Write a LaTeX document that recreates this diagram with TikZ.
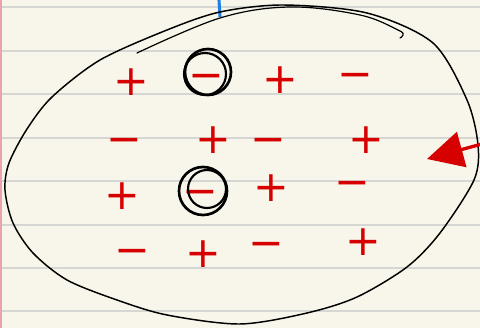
\documentclass[tikz,border=0pt]{standalone}
\usepackage{fontspec}
\usepackage{tikz}
\usetikzlibrary{arrows.meta}

\newfontfamily\signfont{DejaVu Sans}

\definecolor{paper}{HTML}{F8F6EA}
\definecolor{ruling}{HTML}{D6D6D3}
\definecolor{marginline}{HTML}{E9A3AC}
\definecolor{redink}{HTML}{D60000}
\definecolor{blueink}{HTML}{1C7FE6}

\begin{document}
\begin{tikzpicture}[
    x=0.75pt, y=-0.75pt,
    sign/.style={text=redink, inner sep=0pt, text height=20.5pt, text depth=0pt,
        font=\signfont\fontsize{32}{32}\selectfont},
    ring/.style={draw=black, line width=2pt},
    ink/.style={draw=black, line width=1.1pt, line cap=round, line join=round}
]

    % Lined paper
    \useasboundingbox (0,0) rectangle (480,328);
    \clip (0,0) rectangle (480,328);
    \fill[paper] (0,0) rectangle (480,328);
    \draw[ruling, line width=1.1pt]
        (0,7) -- (480,7)     (0,51) -- (480,51)
        (0,94) -- (480,94)   (0,138) -- (480,138)
        (0,181) -- (480,181) (0,225) -- (480,225)
        (0,268) -- (480,268) (0,311) -- (480,311);
    \draw[marginline, line width=1pt] (1,0) -- (1,328);

    % Blue tick at the top
    \draw[blueink, line width=2.3pt] (219,0) -- (220,17);

    % Big loop round the charges
    \draw[ink] plot[smooth cycle, tension=0.5] coordinates {
        (220,12) (283,5) (367,13) (433,43) (467,100) (478,145) (474,180)
        (440,233) (407,267) (357,297) (307,313) (240,324)
        (167,315) (117,300) (67,280) (33,253) (13,223) (5,190) (9,163)
        (27,129) (52,97) (100,60) (167,30)};
    \draw[ink, line width=0.9pt] plot[smooth, tension=0.6] coordinates {
        (137,53) (220,18) (290,7) (360,15) (398,30) (403,35) (400,38)};

    % Row 1
    \node[sign] (p11) at (131,82) {+};
    \node[sign] (m12) at (206,76) {−};
    \node[sign] (p13) at (280,80) {+};
    \node[sign] (m14) at (355,75) {−};

    % Row 2
    \node[sign] (m21) at (124,140) {−};
    \node[sign] (p22) at (213,140) {+};
    \node[sign] (m23) at (268,140) {−};
    \node[sign] (p24) at (366,140) {+};

    % Row 3
    \node[sign] (p31) at (122,196) {+};
    \node[sign] (m32) at (200,192) {−};
    \node[sign] (p33) at (271,188) {+};
    \node[sign] (m34) at (352,183) {−};

    % Row 4
    \node[sign] (m41) at (132,251) {−};
    \node[sign] (p42) at (203,254) {+};
    \node[sign] (m43) at (266,244) {−};
    \node[sign] (p44) at (363,242) {+};

    % Circled charges
    \draw[ring] (m12) ++(2,-4) circle[radius=23];
    \draw[ring, line width=1.6pt] (m12) ++(-1,-2) circle[radius=21];
    \draw[ring] (m32) ++(3,-1) circle[radius=24];
    \draw[ring, line width=1.6pt] (m32) ++(7,-3) circle[radius=19];

    % Arrow from the right
    \coordinate (tail) at (482,144);
    \coordinate (tip) at (427,159);
    \draw[redink, line width=2.5pt, -{Triangle[length=27pt, width=27pt]}] (tail) -- (tip);

\end{tikzpicture}
\end{document}
